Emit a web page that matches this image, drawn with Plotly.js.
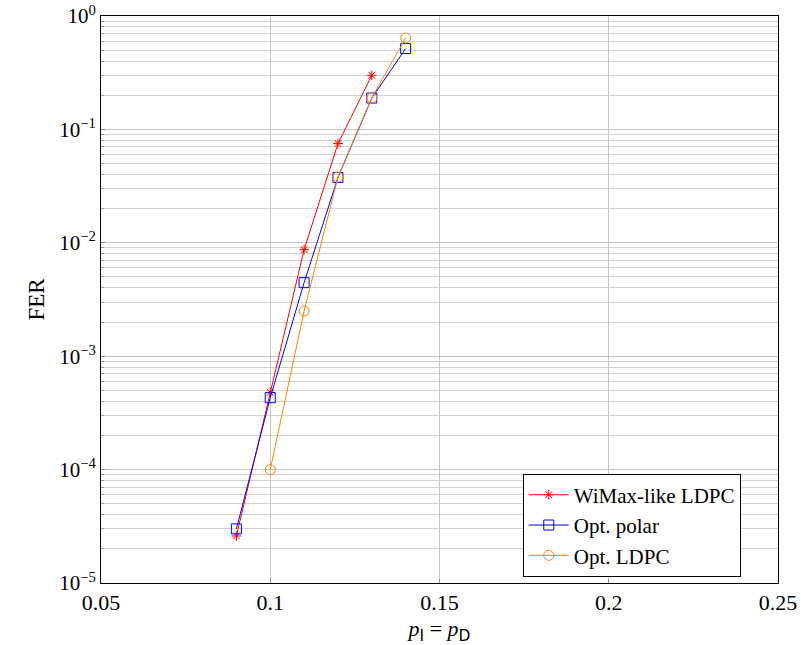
<!DOCTYPE html>
<html><head><meta charset="utf-8">
<script src="https://cdn.plot.ly/plotly-3.0.1.min.js"></script>
<style>html,body{margin:0;padding:0;background:#fff}#chart{width:801px;height:645px}</style>
</head><body><div id="chart"></div>
<script>
// data
const wimaxX = [0.09, 0.10, 0.11, 0.12, 0.13];
const wimaxY = [2.6e-5, 4.8e-4, 8.7e-3, 0.075, 0.30];
const polarX = [0.09, 0.10, 0.11, 0.12, 0.13, 0.14];
const polarY = [3.0e-5, 4.3e-4, 4.45e-3, 0.0377, 0.189, 0.516];
const ldpcX = [0.10, 0.11, 0.12, 0.13, 0.14];
const ldpcY = [1.0e-4, 2.5e-3, 0.038, 0.19, 0.64];
const yTickVals = [1e-5, 1e-4, 1e-3, 1e-2, 1e-1, 1];
const yTickText = ['10<sup>\u22125</sup>','10<sup>\u22124</sup>','10<sup>\u22123</sup>','10<sup>\u22122</sup>','10<sup>\u22121</sup>','10<sup>0</sup>'];

const minorVals = [];
for (let e = -5; e < 0; e++) for (let m = 2; m <= 9; m++) minorVals.push(m * Math.pow(10, e));

const font = '"Liberation Serif", "DejaVu Serif", serif';
const traces = [
  {x: wimaxX, y: wimaxY, name: 'WiMax-like LDPC', mode: 'lines+markers',
   line: {color: '#ff0000', width: 1}, marker: {symbol: 'asterisk-open', size: 8, color: '#ff0000', line: {color: '#ff0000', width: 1}}},
  {x: polarX, y: polarY, name: 'Opt. polar', mode: 'lines+markers',
   line: {color: '#0000ff', width: 1}, marker: {symbol: 'square-open', size: 10, color: '#0000ff', line: {color: '#0000ff', width: 1}}},
  {x: ldpcX, y: ldpcY, name: 'Opt. LDPC', mode: 'lines+markers',
   line: {color: '#ff8000', width: 1}, marker: {symbol: 'circle-open', size: 10, color: '#ff8000', line: {color: '#ff8000', width: 1}}}
];
const layout = {
  width: 801, height: 645,
  margin: {l: 101, r: 23, t: 16, b: 62},
  paper_bgcolor: '#fff', plot_bgcolor: '#fff',
  font: {family: font, size: 22, color: '#000'},
  showlegend: true,
  legend: {x: 0.623, y: 0.193, xanchor: 'left', yanchor: 'top', bordercolor: '#000', borderwidth: 1,
           bgcolor: '#fff', font: {family: font, size: 21}, tracegroupgap: 0, itemwidth: 40},
  xaxis: {
    range: [0.05, 0.25], dtick: 0.05, tick0: 0.05,
    showline: true, mirror: true, linecolor: '#000', linewidth: 1,
    showgrid: true, gridcolor: '#c8c8c8', gridwidth: 1,
    ticks: 'inside', ticklen: 4, tickcolor: '#888',
    zeroline: false, ticklabeloverflow: 'allow',
    tickfont: {family: font, size: 22},
    title: {text: '<i>p</i><sub><span style="font-family:DejaVu Sans">I</span></sub> = <i>p</i><sub><span style="font-family:DejaVu Sans">D</span></sub>', font: {family: font, size: 22}, standoff: 6}
  },
  yaxis: {
    type: 'log', range: [-5, 0],
    tickmode: 'array', tickvals: yTickVals, ticktext: yTickText,
    showline: true, mirror: true, linecolor: '#000', linewidth: 1,
    showgrid: true, gridcolor: '#c8c8c8', gridwidth: 1,
    ticks: 'inside', ticklen: 4, tickcolor: '#888',
    zeroline: false, ticklabeloverflow: 'allow',
    tickfont: {family: font, size: 21},
    minor: {tickmode: 'array', tickvals: minorVals, showgrid: true, gridcolor: '#d2d2d2', gridwidth: 1, ticks: 'inside', ticklen: 3, tickcolor: '#999'},
    title: {text: 'FER', font: {family: font, size: 23}, standoff: 8}
  }
};
Plotly.newPlot('chart', traces, layout, {displayModeBar: false, staticPlot: true});
</script></body></html>
